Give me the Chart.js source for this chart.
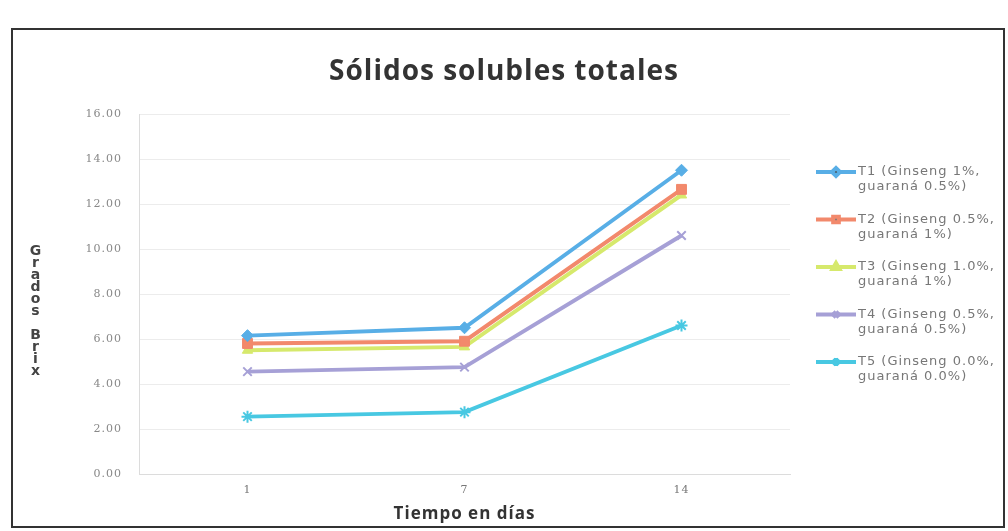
<!DOCTYPE html>
<html>
<head>
    <title>Sólidos solubles totales</title>
    <script src="https://cdn.jsdelivr.net/npm/chart.js"></script>
    <style>
        body { margin: 0; background: #fff; }
        #wrap { position: relative; width: 1008px; height: 531px; }
        #frame { position: absolute; left: 11px; top: 28px; width: 990px; height: 496px; border: 2px solid #333; pointer-events: none; }
    </style>
</head>
<body>
<div id="wrap">
    <canvas id="chart" width="1008" height="531"></canvas>
    <div id="frame"></div>
</div>

<script>
// Datos
const dias = ['1', '7', '14'];
const yTicks = [0, 2, 4, 6, 8, 10, 12, 14, 16];
const seriesLabels = [
    ['T1 (Ginseng 1%,', 'guaraná 0.5%)'],
    ['T2 (Ginseng 0.5%,', 'guaraná 1%)'],
    ['T3 (Ginseng 1.0%,', 'guaraná 1%)'],
    ['T4 (Ginseng 0.5%,', 'guaraná 0.5%)'],
    ['T5 (Ginseng 0.0%,', 'guaraná 0.0%)']
];
const t1 = [6.15, 6.5, 13.5];
const t2 = [5.8, 5.9, 12.65];
const t3 = [5.5, 5.65, 12.4];
const t4 = [4.55, 4.75, 10.6];
const t5 = [2.55, 2.75, 6.6];

const colores = ['#58aee6', '#f2896c', '#d6e96c', '#a6a0d6', '#48c8e2'];
const marcadores = ['rectRot', 'rect', 'triangle', 'crossRot', 'star'];
const tamanos = [6, 7, 6, 6, 6];

const datasets = [t1, t2, t3, t4, t5].map((d, i) => ({
    label: seriesLabels[i].join(' '),
    data: d,
    borderColor: colores[i],
    backgroundColor: colores[i],
    borderWidth: 4,
    pointStyle: marcadores[i],
    pointRadius: tamanos[i],
    pointBorderWidth: i === 3 || i === 4 ? 2 : 1,
    tension: 0
}));

// el escaneo original tiene el texto algo estirado
const espaciado = {
    id: 'espaciado',
    beforeDraw(chart) { chart.ctx.letterSpacing = '1px'; }
};

// título, eje Y vertical y leyenda dibujados a mano
const extras = {
    id: 'extras',
    afterDraw(chart) {
        const ctx = chart.ctx;
        const area = chart.chartArea;
        ctx.save();
        ctx.fillStyle = '#333';
        ctx.font = 'bold 28px "Open Sans"';
        ctx.textAlign = 'center';
        ctx.textBaseline = 'middle';
        ctx.fillText('Sólidos solubles totales', 504, 72);

        // Grados Brix en letras apiladas
        ctx.font = 'bold 14px "DejaVu Sans"';
        ctx.fillStyle = '#444';
        const letras = 'Grados Brix'.split('');
        let y = 251;
        letras.forEach(l => {
            if (l === ' ') { y += 12; return; }
            ctx.fillText(l, 36, y);
            y += 12;
        });

        // leyenda
        ctx.textAlign = 'left';
        ctx.font = '13px "DejaVu Sans"';
        chart.data.datasets.forEach((ds, i) => {
            const ly = area.top + 58 + i * 47.5;
            ctx.strokeStyle = ds.borderColor;
            ctx.lineWidth = 4;
            ctx.beginPath();
            ctx.moveTo(816, ly);
            ctx.lineTo(856, ly);
            ctx.stroke();
            Chart.helpers.drawPoint(ctx, {
                pointStyle: ds.pointStyle, radius: 4, borderWidth: 1
            }, 836, ly);
            ctx.fillStyle = '#777';
            ctx.fillText(seriesLabels[i][0], 858, ly);
            ctx.fillText(seriesLabels[i][1], 858, ly + 15);
        });
        ctx.restore();
    }
};

new Chart(document.getElementById('chart'), {
    type: 'line',
    data: { labels: dias, datasets: datasets },
    options: {
        responsive: false,
        animation: false,
        layout: { padding: { top: 114, right: 218, left: 10, bottom: 0 } },
        plugins: {
            legend: { display: false },
            tooltip: { enabled: false }
        },
        scales: {
            x: {
                offset: true,
                grid: { display: false, drawTicks: false },
                border: { color: '#dcdcdc' },
                ticks: { color: '#777', font: { family: '"DejaVu Serif"', size: 11 }, padding: 10 },
                title: {
                    display: true,
                    text: 'Tiempo en días',
                    color: '#333',
                    font: { family: '"Open Sans"', size: 17, weight: 'bold' },
                    padding: { top: 0, bottom: 7 }
                },
                afterFit(scale) { scale.height = 57; }
            },
            y: {
                min: 0,
                max: 16,
                afterBuildTicks(scale) { scale.ticks = yTicks.map(v => ({ value: v })); },
                grid: { color: '#ececec', drawTicks: false },
                border: { color: '#dcdcdc' },
                ticks: {
                    color: '#888',
                    font: { family: '"DejaVu Serif"', size: 11 },
                    padding: 17,
                    callback: v => v.toFixed(2)
                },
                afterFit(scale) { scale.width = 129; }
            }
        }
    },
    plugins: [espaciado, extras]
});
</script>
</body>
</html>
